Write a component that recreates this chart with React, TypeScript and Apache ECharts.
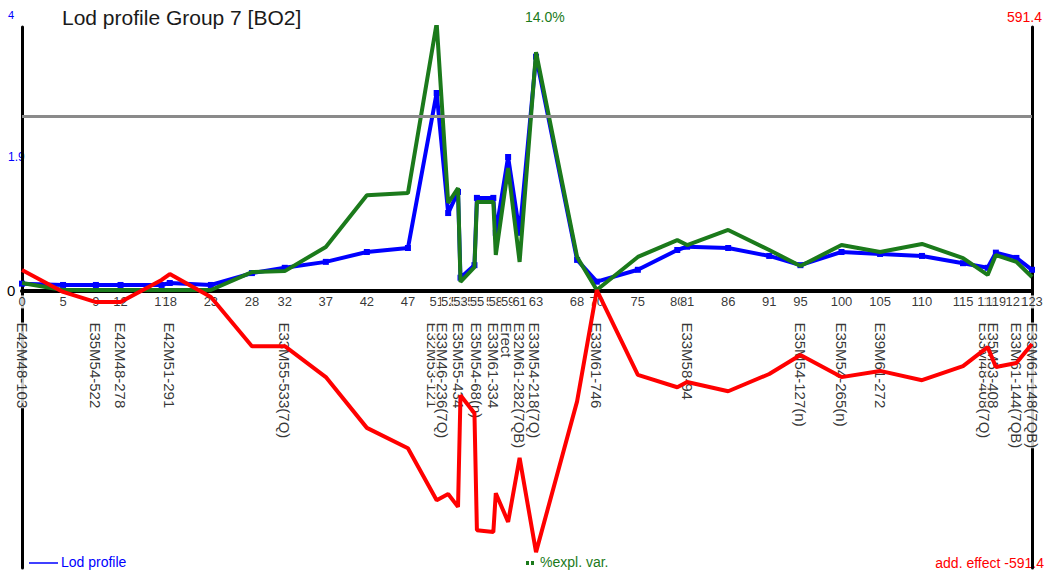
import React, { useEffect, useRef } from "react";
import * as echarts from "echarts";

// map positions (cM) of the analysed loci
const positions = [
  0, 5, 9, 12, 17, 18, 23, 28, 32, 37,
  42, 47, 50.5, 51.9, 53.1, 53.4, 55.1, 55.4, 57.4, 57.7,
  59.2, 60.6, 62.6, 67.6, 70, 75, 79.8, 81, 86, 91,
  94.8, 99.8, 104.5, 109.6, 114.6, 117.6, 118.6, 121.1, 123,
];
const tickLabels = [
  "0", "5", "9", "12", "17", "18", "23", "28", "32", "37",
  "42", "47", "51", "52", "53", "53", "55", "55", "57", "58",
  "59", "61", "63", "68", "70", "75", "80", "81", "86", "91",
  "95", "100", "105", "110", "115", "118", "119", "121", "123",
];
const lodProfile = [
  0.11, 0.09, 0.09, 0.09, 0.09, 0.12, 0.09, 0.27, 0.35, 0.44,
  0.59, 0.65, 3.0, 1.18, 1.5, 0.2, 0.39, 1.41, 1.41, 0.88,
  2.03, 0.88, 3.55, 0.47, 0.14, 0.32, 0.62, 0.67, 0.65, 0.53,
  0.39, 0.59, 0.56, 0.53, 0.42, 0.35, 0.58, 0.5, 0.32,
];
const explVar = [
  0.42, 0.05, 0.05, 0.05, 0.05, 0.05, 0.05, 0.99, 1.04, 2.3,
  5.0, 5.12, 14.0, 4.6, 5.38, 0.47, 1.25, 4.65, 4.65, 1.88,
  6.43, 1.52, 12.49, 1.78, 0.05, 1.78, 2.66, 2.4, 3.19, 2.14,
  1.31, 2.4, 2.04, 2.46, 1.72, 0.84, 1.88, 1.52, 0.73,
];
const addEffect = [
  47.6, -2, -25, -25, 25, 38.5, -13.6, -125, -125, -195,
  -310, -356, -474, -460, -489, -236, -277, -542, -546, -458,
  -523, -378, -591.4, -250, 2, -190, -218, -206, -227, -188,
  -145, -195, -181, -202, -170, -127, -172, -163, -120,
];
const markerPositions = [
  0, 9, 12, 18, 32, 50.0, 51.2, 53.1, 55.4, 57.4, 59.0, 60.6, 62.4,
  70, 81, 94.8, 99.8, 104.5, 117.2, 118.3, 121.1, 123,
];
const markerNames = [
  "E42M48-103", "E35M54-522", "E42M48-278", "E42M51-291", "E33M55-533(7Q)",
  "E32M53-121", "E33M46-236(7Q)", "E35M55-434", "E35M54-68(n)", "E33M61-334",
  "Erect", "E32M61-282(7QB)", "E33M54-218(7Q)", "E33M61-746", "E33M58-94",
  "E35M54-127(n)", "E35M54-265(n)", "E39M61-272", "E33M48-408(7Q)", "E35M53-408",
  "E33M61-144(7QB)", "E33M61-148(7QB)",
];
const threshold = 2.64;
// axis ranges (upper half above the zero line, lower half below it)
const lodMax = 4;
const lodMin = -4.2;
const effectMax = 598;
const effectMin = -627.4;
const explMax = 13.8;
const explMin = -14.48;

const FONT = "'Liberation Sans', Arial, sans-serif";

export default function App() {
  const ref = useRef<HTMLDivElement>(null);

  useEffect(() => {
    const chart = echarts.init(ref.current as HTMLDivElement, null, { renderer: "svg" });
    const zip = (ys: number[]) => positions.map((x, i) => [x, ys[i]]);
    const hiddenAxisParts = {
      axisTick: { show: false },
      axisLabel: { show: false },
      splitLine: { show: false },
    };
    chart.setOption({
      animation: false,
      backgroundColor: "#ffffff",
      grid: { left: 22, right: 15, top: 27, bottom: 6 },
      xAxis: {
        type: "value",
        min: 0,
        max: 123,
        axisLine: {
          show: true,
          onZero: true,
          onZeroAxisIndex: 0,
          lineStyle: { color: "#000", width: 4 },
        },
        ...hiddenAxisParts,
      },
      yAxis: [
        {
          type: "value",
          min: lodMin,
          max: lodMax,
          position: "left",
          axisLine: { show: true, lineStyle: { color: "#000", width: 3 } },
          ...hiddenAxisParts,
        },
        {
          type: "value",
          min: effectMin,
          max: effectMax,
          position: "right",
          axisLine: { show: true, lineStyle: { color: "#000", width: 3 } },
          ...hiddenAxisParts,
        },
        {
          type: "value",
          show: false,
          min: explMin,
          max: explMax,
        },
      ],
      series: [
        {
          name: "ticks",
          type: "scatter",
          z: 1,
          silent: true,
          symbolSize: 1,
          itemStyle: { color: "rgba(0,0,0,0)" },
          data: positions.map((p, i) => ({ value: [p, 0], name: tickLabels[i] })),
          label: {
            show: true,
            formatter: "{b}",
            position: "bottom",
            distance: 4,
            fontSize: 13,
            fontFamily: FONT,
            color: "#000",
            backgroundColor: "#ffffff",
          },
        },
        {
          name: "markers",
          type: "scatter",
          z: 1,
          silent: true,
          symbolSize: 1,
          itemStyle: { color: "rgba(0,0,0,0)" },
          data: markerPositions.map((p, i) => ({ value: [p, 0], name: markerNames[i] })),
          label: {
            show: true,
            formatter: "{b}",
            rotate: -90,
            position: [0.5, 32],
            align: "left",
            verticalAlign: "middle",
            fontSize: 15,
            fontFamily: FONT,
            color: "#000",
            backgroundColor: "#ffffff",
          },
        },
        {
          name: "Lod profile",
          type: "line",
          z: 3,
          yAxisIndex: 0,
          data: zip(lodProfile),
          symbol: "rect",
          symbolSize: 6,
          showSymbol: true,
          lineStyle: { color: "#0000ff", width: 4 },
          itemStyle: { color: "#0000ff" },
          markLine: {
            silent: true,
            symbol: "none",
            label: { show: false },
            lineStyle: { color: "#8a8a8a", width: 3, type: "solid" },
            data: [{ yAxis: threshold }],
          },
        },
        {
          name: "%expl. var.",
          type: "line",
          z: 4,
          yAxisIndex: 2,
          data: zip(explVar),
          symbol: "none",
          lineStyle: { color: "#1b7a1b", width: 4 },
        },
        {
          name: "add. effect",
          type: "line",
          z: 5,
          yAxisIndex: 1,
          data: zip(addEffect),
          symbol: "none",
          lineStyle: { color: "#ff0000", width: 4 },
        },
      ],
      graphic: [
        {
          type: "text",
          left: 62,
          top: 7,
          style: { text: "Lod profile Group 7 [BO2]", font: `21px ${FONT}`, fill: "#1a1a1a" },
        },
        { type: "text", left: 8, top: 9, style: { text: "4", font: `11px ${FONT}`, fill: "#0000ff" } },
        { type: "text", left: 8, top: 151, style: { text: "1.9", font: `12px ${FONT}`, fill: "#0000ff" } },
        { type: "text", left: 7, top: 283, style: { text: "0", font: `15px ${FONT}`, fill: "#000" } },
        { type: "text", left: 1007, top: 10, style: { text: "591.4", font: `14px ${FONT}`, fill: "#ff0000" } },
        { type: "text", left: 525, top: 10, style: { text: "14.0%", font: `14px ${FONT}`, fill: "#1b7a1b" } },
        {
          type: "line",
          shape: { x1: 29, y1: 563, x2: 58, y2: 563 },
          style: { stroke: "#0000ff", lineWidth: 1.5 },
        },
        { type: "text", left: 61, top: 555, style: { text: "Lod profile", font: `14px ${FONT}`, fill: "#0000ff" } },
        { type: "rect", shape: { x: 526, y: 561, width: 3, height: 4 }, style: { fill: "#1b7a1b" } },
        { type: "rect", shape: { x: 531, y: 561, width: 3, height: 4 }, style: { fill: "#1b7a1b" } },
        { type: "text", left: 540, top: 555, style: { text: "%expl. var.", font: `14px ${FONT}`, fill: "#1b7a1b" } },
        {
          type: "text",
          right: 3,
          top: 556,
          style: { text: "add. effect -591.4", font: `14px ${FONT}`, fill: "#ff0000" },
        },
      ],
    });
    return () => chart.dispose();
  }, []);

  return (
    <div
      ref={ref}
      style={{ position: "absolute", left: 0, top: 0, width: 1047, height: 574, background: "#fff" }}
    />
  );
}
